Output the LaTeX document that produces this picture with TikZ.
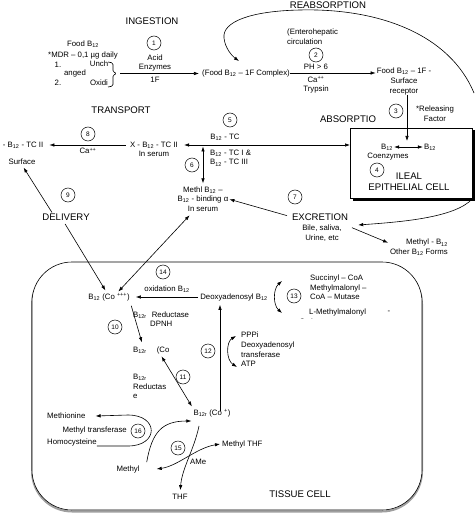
\documentclass[tikz,border=0pt]{standalone}
\usepackage{fontspec}
\setmainfont{Liberation Sans}
\usetikzlibrary{arrows.meta}
\newcommand{\Btw}{B\textsubscript{12}}
\newcommand{\Btr}{B\textsubscript{12r}}
\begin{document}
\begin{tikzpicture}[x=1pt,y=-1pt,
 txt/.style={font=\fontsize{7.8}{9.6}\selectfont,inner sep=0pt,align=center},
 ltxt/.style={txt,align=left},
 rtxt/.style={txt,align=right},
 head/.style={font=\fontsize{9.6}{11}\selectfont,inner sep=0pt,align=center},
 num/.style={circle,draw,line width=0.5pt,minimum size=14pt,inner sep=0pt,font=\fontsize{6.5}{7}\selectfont},
 con/.style={line width=0.6pt},
 arr/.style={con,-{Latex[length=5pt,width=3.5pt]}},
 darr/.style={con,{Latex[length=5pt,width=3.5pt]}-{Latex[length=5pt,width=3.5pt]}},
]
\useasboundingbox (0,0) rectangle (474,513);

% tissue cell
\draw[gray!75,line width=2pt,rounded corners=40pt] (32,264) rectangle (422,511.5);
\draw[con,fill=white,rounded corners=40pt] (32,262) rectangle (422,510);

% ileal cell box with shadow
\fill[black] (352.5,130.5) rectangle (474.5,200.5);
\node[draw,con,fill=white,minimum width=122pt,minimum height=70pt,anchor=north west,inner sep=0pt] (ileal) at (350,128) {};

% headings
\node[head] (ingest) at (152,21) {INGESTION};
\node[head] (reab) at (328,5) {REABSORPTION};
\node[head] (transp) at (121,110) {TRANSPORT};
\node[head] (absorp) at (348,119) {ABSORPTIO};
\node[head] (deliv) at (66,217) {DELIVERY};
\node[head] (excr) at (320,217) {EXCRETION};
\node[head] (ilealtxt) at (409,181.5) {ILEAL\\EPITHELIAL CELL};
\node[head] (tissue) at (300,494) {TISSUE CELL};

% number circles
\node[num] (c1) at (154,43) {1};
\node[num] (c2) at (316,55) {2};
\node[num] (c3) at (396,111) {3};
\node[num] (c4) at (377,170) {4};
\node[num] (c5) at (230,120) {5};
\node[num] (c6) at (192,165) {6};
\node[num] (c7) at (295,197) {7};
\node[num] (c8) at (88,134) {8};
\node[num] (c9) at (68,195) {9};
\node[num] (c10) at (115,327) {10};
\node[num] (c11) at (183,377) {11};
\node[num] (c12) at (208,351) {12};
\node[num] (c13) at (294,296) {13};
\node[num] (c14) at (163,272) {14};
\node[num] (c15) at (178,448) {15};
\node[num] (c16) at (138,431) {16};

% ingestion
\node[txt] (food) at (83,44) {Food \Btw};
\node[txt] (mdr) at (83,55) {*MDR – 0,1 µg daily};
\node[txt] (n1) at (58,65) {1.};
\node[txt] (unch) at (99,64) {Unch};
\node[txt] (anged) at (75,73) {anged};
\node[txt] (n2) at (58,83) {2.};
\node[txt] (oxidi) at (99,83) {Oxidi};
\draw[con,rounded corners=1.5pt] (108,62) -- (113,63) -- (113,72) -- (117,73.5) -- (113,75) -- (113,86) -- (108,87);
\coordinate (brtip) at (120,73.5);
\node[txt] (acid) at (155,63) {Acid\\Enzymes};
\node[txt] (onef) at (155,80) {1F};
\node[txt] (complex) at (246,73) {(Food \Btw\ – 1F Complex)};
\draw[arr,shorten >=3pt] (brtip) -- (brtip -| complex.west);

\node[ltxt,anchor=west] (entero) at (287,37) {(Enterohepatic\\circulation};
\node[txt] (ph) at (316,66.5) {PH > 6};
\node[txt] (catr) at (316,85) {Ca\textsuperscript{++}\\Trypsin};
\node[txt] (foodrec) at (404,81.5) {Food \Btw\ – 1F -\\Surface\\receptor};
\draw[arr,shorten >=1pt] (complex.east) -- (complex.east -| foodrec.west);

% reabsorption curve
\draw[arr] (474,93) .. controls (450,35) and (380,8) .. (300,10) .. controls (250,11) and (222,22) .. (224,38) .. controls (225,48) and (232,56) .. (239,61);

% absorption
\coordinate (relend) at (407,141);
\draw[arr] (foodrec.south -| relend) -- (relend);
\node[txt] (relf) at (435,113.5) {*Releasing\\Factor};
\node[txt] (bco1) at (387,147) {\Btw};
\node[txt] (bco2) at (388,157) {Coenzymes};
\node[txt] (bfree) at (430,147) {\Btw};
\draw[darr,shorten <=1pt,shorten >=1pt] (bco1.east) -- (bfree.west);

% transport
\node[txt] (xb) at (154,149.5) {X - \Btw\ - TC II\\In serum};
\node[txt] (tc5) at (225,137) {\Btw\ - TC};
\draw[darr,shorten >=0pt] ([yshift=4.5pt,xshift=6pt]xb.east) -- ([yshift=4.5pt]xb.east -| ileal.west);
\node[ltxt,anchor=west] (tc13) at (210,158) {\Btw\ - TC I \&\\\Btw\ - TC III};
\node[txt] (methl) at (203,199) {Methl \Btw\ –\\\Btw\ - binding α\\In serum};
\coordinate (vtop) at (203,146.5);
\draw[darr,shorten >=3pt] (vtop) -- (methl.north -| vtop);

\node[txt] (tc2) at (23,145) {- \Btw\ - TC II};
\node[txt] (surf) at (22,162) {Surface};
\node[txt] (ca8) at (88,151) {Ca\textsuperscript{++}};
\draw[arr,shorten >=6pt] ([yshift=4.5pt,xshift=-4pt]xb.west) -- ([yshift=4.5pt]xb.west -| tc2.east);

% excretion
\node[txt] (bile) at (322,233) {Bile, saliva,\\Urine, etc};
\draw[arr,shorten <=5pt,shorten >=1pt] (excr.west) -- (methl.east);
\draw[arr] (ileal.south east) .. controls (455,218) and (400,222) .. ([xshift=10pt,yshift=-8pt]excr.east);
\node[rtxt,anchor=east] (meth) at (448,247.5) {Methyl - \Btw\\Other \Btw\ Forms};
\draw[arr,shorten >=2pt] ([xshift=10pt,yshift=-3pt]bile.north east) -- ([yshift=4pt]meth.west);

% tissue cell
\node[txt] (oxid) at (167,289) {oxidation \Btw};
\node[txt] (b12c3) at (109,297) {\Btw\ (Co \textsuperscript{+++})};
\node[txt] (deoxy) at (234,297) {Deoxyadenosyl \Btw};
\draw[arr,shorten <=2pt,shorten >=6pt] (deoxy.west) -- (b12c3.east);

% delivery
\draw[arr,shorten >=3pt] ([xshift=-14pt,yshift=1pt]deliv.north) -- (surf.south);
\draw[arr,shorten <=4pt,shorten >=3pt] ([xshift=-3pt]deliv.south) -- ([xshift=-2pt]b12c3.north);
\draw[darr,shorten >=5pt,shorten <=2pt] ([xshift=8pt]b12c3.north) -- ([xshift=-10pt]methl.south);

\node[ltxt,anchor=west] (red10) at (133,315) {\Btr\hspace{5pt}Reductase};
\node[ltxt,anchor=west] (dpnh) at (150,323.5) {DPNH};
\node[ltxt,anchor=west] (b12r) at (133,350) {\Btr\hspace{10pt}(Co};
\draw[arr,shorten <=5pt,shorten >=4pt] (b12c3.south east) -- ([xshift=10pt]b12r.north west);
\node[ltxt,anchor=west] (red11) at (133,386.5) {\Btr\\Reductas\\e};
\node[txt] (b12c1) at (212,413) {\Btr\ (Co \textsuperscript{+})};
\draw[darr,shorten <=3pt,shorten >=3pt] ([xshift=27pt]b12r.south west) -- (b12c1.north west);
\draw[arr,shorten >=4pt] ([xshift=8pt,yshift=-2pt]b12c1.north) -- ([xshift=-14pt]deoxy.south);

\node[ltxt,anchor=west] (ppp) at (241,349.5) {PPPi\\Deoxyadenosyl\\transferase\\ATP};
\coordinate (p12a) at (236,336);
\coordinate (p12b) at (237,367);
\draw[darr] (p12a) .. controls (226,342) and (226,360) .. (p12b);

\node[ltxt,anchor=west] (succ) at (310,287.5) {Succinyl – CoA\\Methylmalonyl –\\CoA – Mutase};
\node[ltxt,anchor=west] (lmm) at (309,312) {L-Methylmalonyl};
\node[txt] (dash) at (389,312) {-};
\begin{scope}
\clip (295,313) rectangle (320,318.5);
\node[txt] (coacut) at (307,321.5) {CoA};
\end{scope}
\coordinate (p13a) at (282,281);
\coordinate (p13b) at (282,313);
\draw[darr] (p13a) .. controls (273,289) and (273,305) .. (p13b);

% bottom reactions
\node[ltxt,anchor=west] (methio) at (47,416) {Methionine};
\node[ltxt,anchor=east] (mtrans) at (127,430) {Methyl transferase};
\node[ltxt,anchor=west] (homo) at (47,442) {Homocysteine};
\draw[arr] ([yshift=-4pt]homo.east) -- (128,446) .. controls (159,446) and (159,415) .. (128,415) -- ([xshift=10pt]methio.east);

\node[txt] (methylnode) at (128,469) {Methyl};
\node[ltxt,anchor=west] (ame) at (190,462) {AMe};
\node[txt] (thf) at (180,497) {THF};
\node[ltxt,anchor=west] (mthf) at (222,444) {Methyl THF};

\draw[arr] ([xshift=7pt,yshift=3pt]methylnode.north east) .. controls (152,432) and (162,421) .. ([xshift=-2pt,yshift=-8pt]b12c1.west);
\draw[arr,shorten >=4pt] ([xshift=-13pt,yshift=-9pt]b12c1.south) .. controls (194,450) and (182,468) .. (thf.north);
\draw[darr] ([xshift=17pt]methylnode.east) .. controls (178,466) and (196,448) .. ([xshift=-2pt]mthf.west);
\end{tikzpicture}
\end{document}
